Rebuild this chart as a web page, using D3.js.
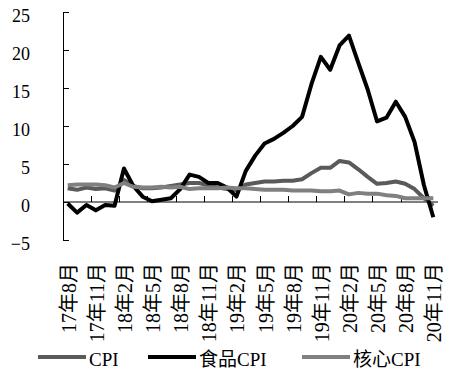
<!DOCTYPE html>
<html>
<head>
<meta charset="utf-8">
<script src="https://cdn.jsdelivr.net/npm/d3@7"></script>
<style>
  body { margin: 0; background: #fff; }
  text { font-family: "Liberation Serif", "Noto Sans CJK SC", serif; fill: #000; }
</style>
</head>
<body>
<div id="main"></div>
<script>
// months 17年8月 .. 20年11月
var months = [];
for (var yy = 17; yy <= 20; yy++) {
    for (var mm = 1; mm <= 12; mm++) {
        if (yy === 17 && mm < 8) continue;
        if (yy === 20 && mm > 11) continue;
        months.push(yy + "年" + mm + "月");
    }
}

var cpi = [1.8, 1.6, 1.9, 1.7, 1.8,
    1.5, 2.9, 2.1, 1.8, 1.8, 1.9, 2.1, 2.3, 2.5, 2.5, 2.2, 1.9,
    1.7, 1.5, 2.3, 2.5, 2.7, 2.7, 2.8, 2.8, 3.0, 3.8, 4.5, 4.5,
    5.4, 5.2, 4.3, 3.3, 2.4, 2.5, 2.7, 2.4, 1.7, 0.5, -0.5];

var foodCpi = [-0.2, -1.4, -0.4, -1.1, -0.4,
    -0.5, 4.4, 2.1, 0.7, 0.1, 0.3, 0.5, 1.7, 3.6, 3.3, 2.5, 2.5,
    1.9, 0.7, 4.1, 6.1, 7.7, 8.3, 9.1, 10.0, 11.2, 15.5, 19.1, 17.4,
    20.6, 21.9, 18.3, 14.8, 10.6, 11.1, 13.2, 11.2, 7.9, 2.2, -2.0];

var coreCpi = [2.2, 2.3, 2.3, 2.3, 2.2,
    1.9, 2.5, 2.0, 1.9, 1.9, 2.0, 1.9, 2.0, 1.7, 1.8, 1.8, 1.8,
    1.9, 1.8, 1.8, 1.7, 1.6, 1.6, 1.6, 1.5, 1.5, 1.5, 1.4, 1.4,
    1.5, 1.0, 1.2, 1.1, 1.1, 0.9, 0.8, 0.5, 0.5, 0.5, 0.5];

var yTicks = [-5, 0, 5, 10, 15, 20, 25];

var series = [
    { name: "CPI", values: cpi, color: "#5a5a5a" },
    { name: "食品CPI", values: foodCpi, color: "#000000" },
    { name: "核心CPI", values: coreCpi, color: "#808080" }
];

var ctx = {
    w: 462,
    h: 377,
    left: 63,
    right: 438,
    top: 12,
    bottom: 240
};

var svg = d3.select("#main").append("svg")
    .attr("width", ctx.w)
    .attr("height", ctx.h);

var x = d3.scaleBand().domain(months).range([ctx.left, ctx.right]).padding(0);
var y = d3.scaleLinear().domain([-5, 25]).range([ctx.bottom, ctx.top]);

// y axis, ticks pointing inward
var yAxis = svg.append("g")
    .attr("transform", "translate(" + ctx.left + ",0)")
    .call(d3.axisLeft(y).tickValues(yTicks).tickSizeInner(-6).tickSizeOuter(0).tickPadding(33));
yAxis.selectAll("text").attr("font-size", 18).attr("dy", "0.55em");
yAxis.select(".domain").attr("stroke", "#000");

// x axis along zero line
svg.append("line")
    .attr("x1", ctx.left).attr("x2", ctx.right)
    .attr("y1", y(0)).attr("y2", y(0))
    .attr("stroke", "#000");

var every3 = months.filter(function (d, i) { return i % 3 === 0; });

svg.append("g").selectAll("line")
    .data(every3.slice(1))
    .enter().append("line")
    .attr("x1", function (d) { return Math.round(x(d)) + 0.5; })
    .attr("x2", function (d) { return Math.round(x(d)) + 0.5; })
    .attr("y1", y(0))
    .attr("y2", y(0) - 6)
    .attr("stroke", "#000");

svg.append("g").selectAll("text")
    .data(every3)
    .enter().append("text")
    .attr("transform", function (d) {
        return "translate(" + (x(d) + x.bandwidth() / 2 + 1) + ",263)rotate(-90)";
    })
    .attr("text-anchor", "end")
    .attr("dy", "0.35em")
    .attr("font-size", 20)
    .text(function (d) { return d; });

// lines
var line = d3.line()
    .x(function (d, i) { return x(months[i]) + x.bandwidth() / 2; })
    .y(function (d) { return y(d); });

svg.append("g").selectAll("path")
    .data(series)
    .enter().append("path")
    .attr("d", function (d) { return line(d.values); })
    .attr("fill", "none")
    .attr("stroke", function (d) { return d.color; })
    .attr("stroke-width", 4)
    .attr("stroke-linejoin", "round");

// legend
var legendX = [38, 148, 302];
var legend = svg.append("g").selectAll("g")
    .data(series)
    .enter().append("g")
    .attr("transform", function (d, i) { return "translate(" + legendX[i] + ",357)"; });

legend.append("line")
    .attr("x1", 0).attr("x2", 48)
    .attr("y1", 0).attr("y2", 0)
    .attr("stroke", function (d) { return d.color; })
    .attr("stroke-width", 4);

legend.append("text")
    .attr("x", 51)
    .attr("y", 9)
    .attr("font-size", 19)
    .text(function (d) { return d.name; });
</script>
</body>
</html>
